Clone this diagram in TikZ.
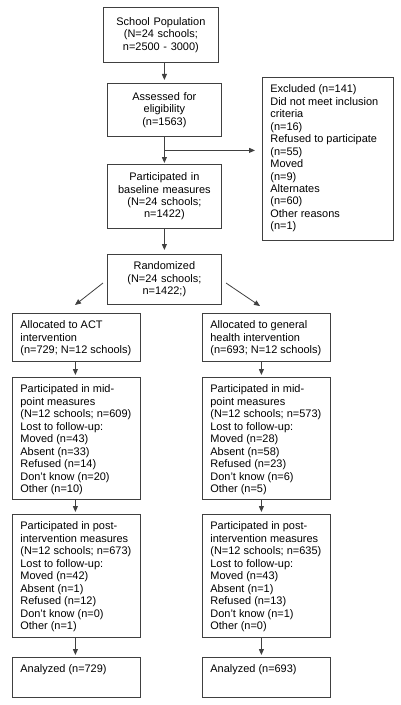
\documentclass[tikz,border=0pt]{standalone}
\usepackage{fontspec}
\setmainfont{Liberation Sans}
\usetikzlibrary{arrows.meta,calc}
\definecolor{boxline}{gray}{0.25}
\newcommand{\listtext}[3]{\parbox[c][#2][t]{#1}{\vspace{6.75bp}\begin{tabular}[t]{@{}l@{}}#3\end{tabular}}}

\begin{document}
\begin{tikzpicture}[x=1bp,y=-1bp,
  midbox/.style={draw=boxline, line width=0.8bp, anchor=north west, align=center, inner sep=0pt, font=\fontsize{11}{12.5}\selectfont},
  listbox/.style={draw=boxline, line width=0.8bp, anchor=north west, inner xsep=8bp, inner ysep=0pt, font=\fontsize{11}{12.5}\selectfont},
  arr/.style={draw=boxline, line width=0.8bp, -{Triangle[length=6bp,width=5bp]}}]
\path[fill=white, use as bounding box] (0,0) rectangle (400,705);
%\node {\includegraphics{flow.jpg}};
\node[midbox, minimum width=115bp, minimum height=55bp, text width=111bp] (pop) at (103,7) {School Population\\(N=24 schools;\\n=2500 - 3000)};
\node[midbox, minimum width=114bp, minimum height=53bp, text width=110bp] (assess) at (107,83) {Assessed for\\eligibility\\(n=1563)};
\node[midbox, minimum width=114bp, minimum height=64bp, text width=110bp] (base) at (107,164) {Participated in\\baseline measures\\(N=24 schools;\\n=1422)};
\node[midbox, minimum width=114bp, minimum height=50bp, text width=110bp] (rand) at (107,254) {Randomized\\(N=24 schools;\\n=1422;)};
\node[listbox] (excl) at (262,77) {\listtext{115bp}{163bp}{Excluded (n=141)\\Did not meet inclusion\\criteria\\(n=16)\\Refused to participate\\(n=55)\\Moved\\(n=9)\\Alternates\\(n=60)\\Other reasons\\(n=1)}};
% ACT arm
\node[listbox] (actalloc) at (12,313) {\listtext{112bp}{48bp}{Allocated to ACT\\intervention\\(n=729; N=12 schools)}};
\node[listbox] (actmid) at (12,377) {\listtext{112bp}{122bp}{Participated in mid-\\point measures\\(N=12 schools; n=609)\\Lost to follow-up:\\Moved (n=43)\\Absent (n=33)\\Refused (n=14)\\Don’t know (n=20)\\Other (n=10)}};
\node[listbox] (actpost) at (12,514) {\listtext{112bp}{123bp}{Participated in post-\\intervention measures\\(N=12 schools; n=673)\\Lost to follow-up:\\Moved (n=42)\\Absent (n=1)\\Refused (n=12)\\Don’t know (n=0)\\Other (n=1)}};
\node[listbox] (actend) at (12,657) {\listtext{112bp}{40bp}{Analyzed (n=729)}};
% general health arm
\node[listbox] (ghalloc) at (202,313) {\listtext{112bp}{48bp}{Allocated to general\\health intervention\\(n=693; N=12 schools)}};
\node[listbox] (ghmid) at (202,377) {\listtext{112bp}{122bp}{Participated in mid-\\point measures\\(N=12 schools; n=573)\\Lost to follow-up:\\Moved (n=28)\\Absent (n=58)\\Refused (n=23)\\Don’t know (n=6)\\Other (n=5)}};
\node[listbox] (ghpost) at (202,514) {\listtext{112bp}{123bp}{Participated in post-\\intervention measures\\(N=12 schools; n=635)\\Lost to follow-up:\\Moved (n=43)\\Absent (n=1)\\Refused (n=13)\\Don’t know (n=1)\\Other (n=0)}};
\node[listbox] (ghend) at (202,657) {\listtext{112bp}{40bp}{Analyzed (n=693)}};
% arrows
\draw[arr, shorten >=3bp] (pop.south -| assess.north) -- (assess.north);
\draw[arr, shorten >=1bp] (assess.south) -- (base.north);
\coordinate (split) at ($(assess.south)!0.5!(base.north)$);
\draw[arr, shorten >=7bp] (split) -- (split -| excl.west);
\draw[arr, shorten >=4bp] (base.south) -- (rand.north);
\coordinate (lfrom) at (103,283);
\coordinate (lto) at (75,305);
\coordinate (rfrom) at (226,283);
\coordinate (rto) at (260,306);
\draw[arr] (lfrom) -- (lto);
\draw[arr] (rfrom) -- (rto);
\draw[arr, shorten >=2bp] ([xshift=-1bp]actalloc.south) -- ([xshift=-1bp]actmid.north);
\draw[arr, shorten >=2bp] ([xshift=-1bp]actmid.south) -- ([xshift=-1bp]actpost.north);
\draw[arr, shorten >=2bp] ([xshift=-1bp]actpost.south) -- ([xshift=-1bp]actend.north);
\draw[arr, shorten >=2bp] ([xshift=-5bp]ghalloc.south) -- ([xshift=-5bp]ghmid.north);
\draw[arr, shorten >=2bp] ([xshift=-5bp]ghmid.south) -- ([xshift=-5bp]ghpost.north);
\draw[arr, shorten >=2bp] ([xshift=-5bp]ghpost.south) -- ([xshift=-5bp]ghend.north);
\end{tikzpicture}
\end{document}
